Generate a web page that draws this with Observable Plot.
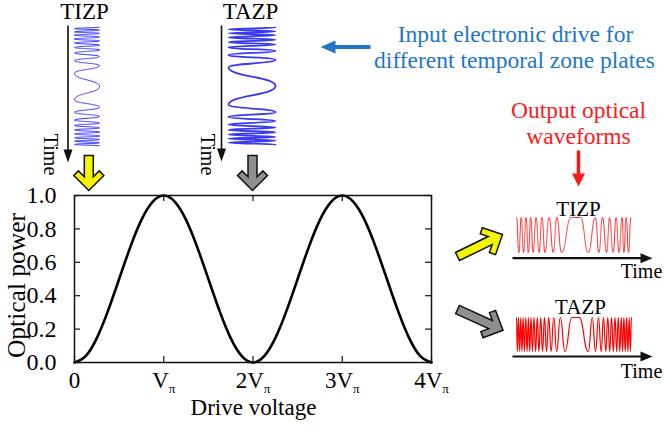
<!DOCTYPE html>
<html><head><meta charset="utf-8">
<script src="https://cdn.jsdelivr.net/npm/d3@7"></script>
<script src="https://cdn.jsdelivr.net/npm/@observablehq/plot@0.6"></script>
<style>
html,body{margin:0;padding:0;background:#fff;}
#chart{position:relative;width:664px;height:430px;overflow:hidden;background:#fff;}
#chart svg{position:absolute;left:0;top:0;}
</style></head><body><div id="chart"></div>
<script>
// ---------- data ----------
// transfer curve of the modulator (drive voltage in units of V_pi)
const driveVoltage = [0,0.125,0.25,0.375,0.5,0.625,0.75,0.875,1,1.125,1.25,1.375,1.5,1.625,1.75,1.875,2,2.125,2.25,2.375,2.5,2.625,2.75,2.875,3,3.125,3.25,3.375,3.5,3.625,3.75,3.875,4];
const opticalPower = [0,0.038,0.146,0.309,0.5,0.691,0.854,0.962,1,0.962,0.854,0.691,0.5,0.309,0.146,0.038,0,0.038,0.146,0.309,0.5,0.691,0.854,0.962,1,0.962,0.854,0.691,0.5,0.309,0.146,0.038,0];
const xTickValues = [0,1,2,3,4];
const xTickLabels = ["0","Vπ","2Vπ","3Vπ","4Vπ"];
const yTickValues = [0,0.2,0.4,0.6,0.8,1.0];

// input electronic drives (turning points: normalised time, drive level)
const tizpDriveTime = [-0.99,-0.965,-0.94,-0.91,-0.885,-0.855,-0.825,-0.79,-0.76,-0.725,-0.69,-0.65,-0.61,-0.56,-0.50,-0.43,-0.35,-0.22,0,0.22,0.35,0.43,0.50,0.56,0.61,0.65,0.69,0.725,0.76,0.79,0.825,0.855,0.885,0.91,0.94,0.965,0.99];
const tizpDriveLevel = [1,0,1,0,1,0,1,0,1,0,1,0,1,0,1,0,1,0,1,0,1,0,1,0,1,0,1,0,1,0,1,0,1,0,1,0,1];
const tazpDriveTime = [-1.0,-0.97,-0.93,-0.90,-0.87,-0.83,-0.79,-0.75,-0.71,-0.66,-0.60,-0.53,-0.45,-0.32,0,0.32,0.45,0.53,0.60,0.66,0.71,0.75,0.79,0.83,0.87,0.90,0.93,0.97,1.0];
const tazpDriveLevel = [1,0,1,0,1,0,1,0,1,0,1,0,1,0,1,0,1,0,1,0,1,0,1,0,1,0,1,0,1];

// output optical waveforms (turning points: normalised time, power)
const tizpOutTime = [-1.0,-0.96,-0.92,-0.88,-0.84,-0.80,-0.76,-0.72,-0.67,-0.62,-0.57,-0.52,-0.45,-0.38,-0.32,-0.24,-0.08,0.08,0.21,0.33,0.39,0.45,0.52,0.57,0.63,0.68,0.73,0.78,0.81,0.85,0.89,0.93];
const tizpOutPower = [1,0,1,0,1,0,1,0,1,0,1,0,1,0,1,0,1,1,0,1,0,1,0,1,0,1,0,1,0,1,0,1];
const tazpOutTime = [-1.0,-0.986,-0.967,-0.947,-0.928,-0.908,-0.889,-0.867,-0.844,-0.822,-0.800,-0.778,-0.756,-0.731,-0.706,-0.678,-0.650,-0.622,-0.592,-0.561,-0.528,-0.494,-0.456,-0.417,-0.372,-0.322,-0.261,-0.183,-0.067,0.056,0.211,0.278,0.333,0.383,0.428,0.467,0.506,0.539,0.572,0.603,0.633,0.661,0.689,0.717,0.742,0.767,0.789,0.811,0.833,0.856,0.878,0.900,0.919,0.939];
const tazpOutPower = [1,0,1,0,1,0,1,0,1,0,1,0,1,0,1,0,1,0,1,0,1,0,1,0,1,0,1,0,1,1,0,1,0,1,0,1,0,1,0,1,0,1,0,1,0,1,0,1,0,1,0,1,0,1];

// annotation texts
const waveNames = ["TIZP","TAZP"];
const timeLabel = "Time";
const inputNote = ["Input electronic drive for","different temporal zone plates"];
const outputNote = ["Output optical","waveforms"];
const xLabel = "Drive voltage";
const yLabel = "Optical power";

// ---------- layout / style ----------
const W = 664, H = 430;
const SERIF = "'Liberation Serif','Times New Roman',serif";
const BLUE_TXT = "#2176c8", RED_TXT = "#ff1a1a";
const root = document.getElementById("chart");
const transparent = {background: "transparent", fontFamily: SERIF};

function box(l, r, t, b) { return {marginLeft: l, marginRight: W - r, marginTop: t, marginBottom: H - b}; }
const zip = (a, b) => a.map((t, i) => ({t, v: b[i]}));

// main chart
const frame = {l: 74, r: 431, t: 195, b: 362};
const fw = frame.r - frame.l, fh = frame.b - frame.t;
const main = Plot.plot({
  width: W, height: H, ...box(frame.l, frame.r, frame.t, frame.b),
  x: {domain: [0, 4], axis: null},
  y: {domain: [0, 1], axis: null},
  style: {...transparent, fontSize: "23px", color: "#000"},
  marks: [
    Plot.line(zip(driveVoltage, opticalPower), {x: "t", y: "v", curve: "natural", stroke: "#000", strokeWidth: 2.6}),
    Plot.frame({stroke: "#111", strokeWidth: 1.5}),
    Plot.tickX(xTickValues, {x: d => d, insetTop: fh - 6, stroke: "#111", strokeWidth: 1.2}),
    Plot.tickX(xTickValues, {x: d => d, insetBottom: fh - 6, stroke: "#111", strokeWidth: 1.2}),
    Plot.tickY(yTickValues, {y: d => d, insetRight: fw - 6, stroke: "#111", strokeWidth: 1.2}),
    Plot.tickY(yTickValues, {y: d => d, insetLeft: fw - 6, stroke: "#111", strokeWidth: 1.2}),
    Plot.text(xTickValues, {x: d => d, text: (d, i) => xTickLabels[i], frameAnchor: "bottom", dy: 25, lineAnchor: "bottom", fill: "#000"}),
    Plot.text(yTickValues, {y: d => d, text: d => d.toFixed(1), frameAnchor: "left", dx: -18, textAnchor: "end", fontSize: 24, fill: "#000"})
  ]
});

function driveWave(time, level, b, style) {
  return Plot.plot({
    width: W, height: H, ...box(b[0], b[1], b[2], b[3]),
    x: {domain: [0, 1], axis: null},
    y: {domain: [-1, 1], reverse: true, axis: null},
    style: transparent,
    marks: [Plot.line(zip(time, level), {x: "v", y: "t", curve: "bump-y", ...style})]
  });
}
function outWave(time, power, b, style) {
  return Plot.plot({
    width: W, height: H, ...box(b[0], b[1], b[2], b[3]),
    x: {domain: [-1, 1], axis: null},
    y: {domain: [0, 1], axis: null},
    style: transparent,
    marks: [Plot.line(zip(time, power), {x: "t", y: "v", curve: "bump-x", ...style})]
  });
}

const tizpIn = driveWave(tizpDriveTime, tizpDriveLevel, [74, 99, 26, 146], {stroke: "#3535ff", strokeWidth: 1, strokeDasharray: "1.2,0.8"});
const tazpIn = driveWave(tazpDriveTime, tazpDriveLevel, [228, 275, 27, 144], {stroke: "#3a3af0", strokeWidth: 1.8});
const tizpOut = outWave(tizpOutTime, tizpOutPower, [516, 634.6, 217, 252], {stroke: "#ff2a2a", strokeWidth: 1, strokeDasharray: "1.2,0.8"});
const tazpOut = outWave(tazpOutTime, tazpOutPower, [516, 634.6, 317, 351], {stroke: "#ff0000", strokeWidth: 1.2});

// arrow shapes for Plot.vector
const blockArrow = {draw(c, l) {
  const w = 4.5, Wg = 15, T = 6.5, s = Math.SQRT1_2, yn = -l + Math.SQRT2 * T + w;
  c.moveTo(0, -l); c.lineTo(Wg, -l + Wg); c.lineTo(Wg - T * s, -l + Wg + T * s); c.lineTo(w, yn);
  c.lineTo(w, 0); c.lineTo(-w, 0); c.lineTo(-w, yn); c.lineTo(-Wg + T * s, -l + Wg + T * s);
  c.lineTo(-Wg, -l + Wg); c.closePath();
}};
const lineArrow = (sw, hl, hw) => ({draw(c, l) {
  c.moveTo(-sw / 2, 0); c.lineTo(-sw / 2, -l + hl); c.lineTo(-hw, -l + hl); c.lineTo(0, -l);
  c.lineTo(hw, -l + hl); c.lineTo(sw / 2, -l + hl); c.lineTo(sw / 2, 0); c.closePath();
}});

const blockArrows = [
  {x: 88.3, y: 155, len: 35, rot: 180, fill: "#f5f500"},
  {x: 252, y: 155, len: 35, rot: 180, fill: "#8f8f8f"},
  {x: 457, y: 256, len: 50, rot: 64, fill: "#f5f500"},
  {x: 457, y: 309, len: 50, rot: 114.5, fill: "#8f8f8f"}
];
const lineArrows = [
  {x: 67.5, y: 25, len: 137, rot: 180, shape: lineArrow(1.6, 13, 4.5), fill: "#111"},
  {x: 221, y: 25, len: 136, rot: 180, shape: lineArrow(1.6, 13, 4.5), fill: "#111"},
  {x: 512, y: 257.7, len: 140, rot: 90, shape: lineArrow(2.2, 12, 5), fill: "#111"},
  {x: 512, y: 356, len: 140, rot: 90, shape: lineArrow(2.2, 12, 5), fill: "#111"},
  {x: 370, y: 46.5, len: 50, rot: -90, shape: lineArrow(4, 15, 6.5), fill: BLUE_TXT},
  {x: 578, y: 150, len: 36, rot: 180, shape: lineArrow(3.5, 13, 6.5), fill: RED_TXT}
];

const overlay = Plot.plot({
  width: W, height: H, margin: 0,
  x: {domain: [0, W], range: [0, W], axis: null},
  y: {domain: [0, H], range: [0, H], axis: null},
  style: transparent,
  marks: [
    ...blockArrows.map(a => Plot.vector([a], {x: "x", y: "y", length: a.len, rotate: a.rot, anchor: "start", shape: blockArrow, fill: a.fill, stroke: "#111", strokeWidth: 1.5, strokeLinejoin: "miter"})),
    ...lineArrows.map(a => Plot.vector([a], {x: "x", y: "y", length: a.len, rotate: a.rot, anchor: "start", shape: a.shape, fill: a.fill, stroke: "none"})),
    // titles
    Plot.text([{x: 84, y: 18.5, s: waveNames[0]}, {x: 250, y: 18.5, s: waveNames[1]}], {x: "x", y: "y", text: "s", fontSize: 23, lineAnchor: "bottom", fill: "#000"}),
    Plot.text([{x: 578, y: 215, s: waveNames[0]}, {x: 580, y: 313, s: waveNames[1]}], {x: "x", y: "y", text: "s", fontSize: 21, lineAnchor: "bottom", fill: "#000"}),
    Plot.text([{x: 50, y: 154}, {x: 207, y: 154}], {x: "x", y: "y", text: () => timeLabel, fontSize: 20, rotate: 90, fill: "#000"}),
    Plot.text([{x: 641, y: 277}, {x: 641, y: 377}], {x: "x", y: "y", text: () => timeLabel, fontSize: 20, lineAnchor: "bottom", fill: "#000"}),
    Plot.text([{x: 515, y: 41, s: inputNote[0]}, {x: 514, y: 67, s: inputNote[1]}], {x: "x", y: "y", text: "s", fontSize: 23.5, lineAnchor: "bottom", fill: BLUE_TXT}),
    Plot.text([{x: 578, y: 117, s: outputNote[0]}, {x: 578, y: 143, s: outputNote[1]}], {x: "x", y: "y", text: "s", fontSize: 23.5, lineAnchor: "bottom", fill: RED_TXT}),
    Plot.text([{x: 253, y: 414}], {x: "x", y: "y", text: () => xLabel, fontSize: 23, lineAnchor: "bottom", fill: "#000"}),
    Plot.text([{x: 24, y: 285}], {x: "x", y: "y", text: () => yLabel, fontSize: 25.5, rotate: -90, lineAnchor: "bottom", fill: "#000"})
  ]
});

for (const svg of [main, tizpIn, tazpIn, tizpOut, tazpOut, overlay]) root.appendChild(svg);

// subscript pi in the drive-voltage tick labels
d3.select(main).selectAll("text").filter(function() { return this.textContent.includes("π"); }).each(function() {
  const s = this.textContent, i = s.indexOf("π");
  const t = d3.select(this); t.text(null);
  t.append("tspan").text(s.slice(0, i));
  t.append("tspan").attr("font-size", 13).attr("dy", 5).text("π");
});
</script></body></html>
